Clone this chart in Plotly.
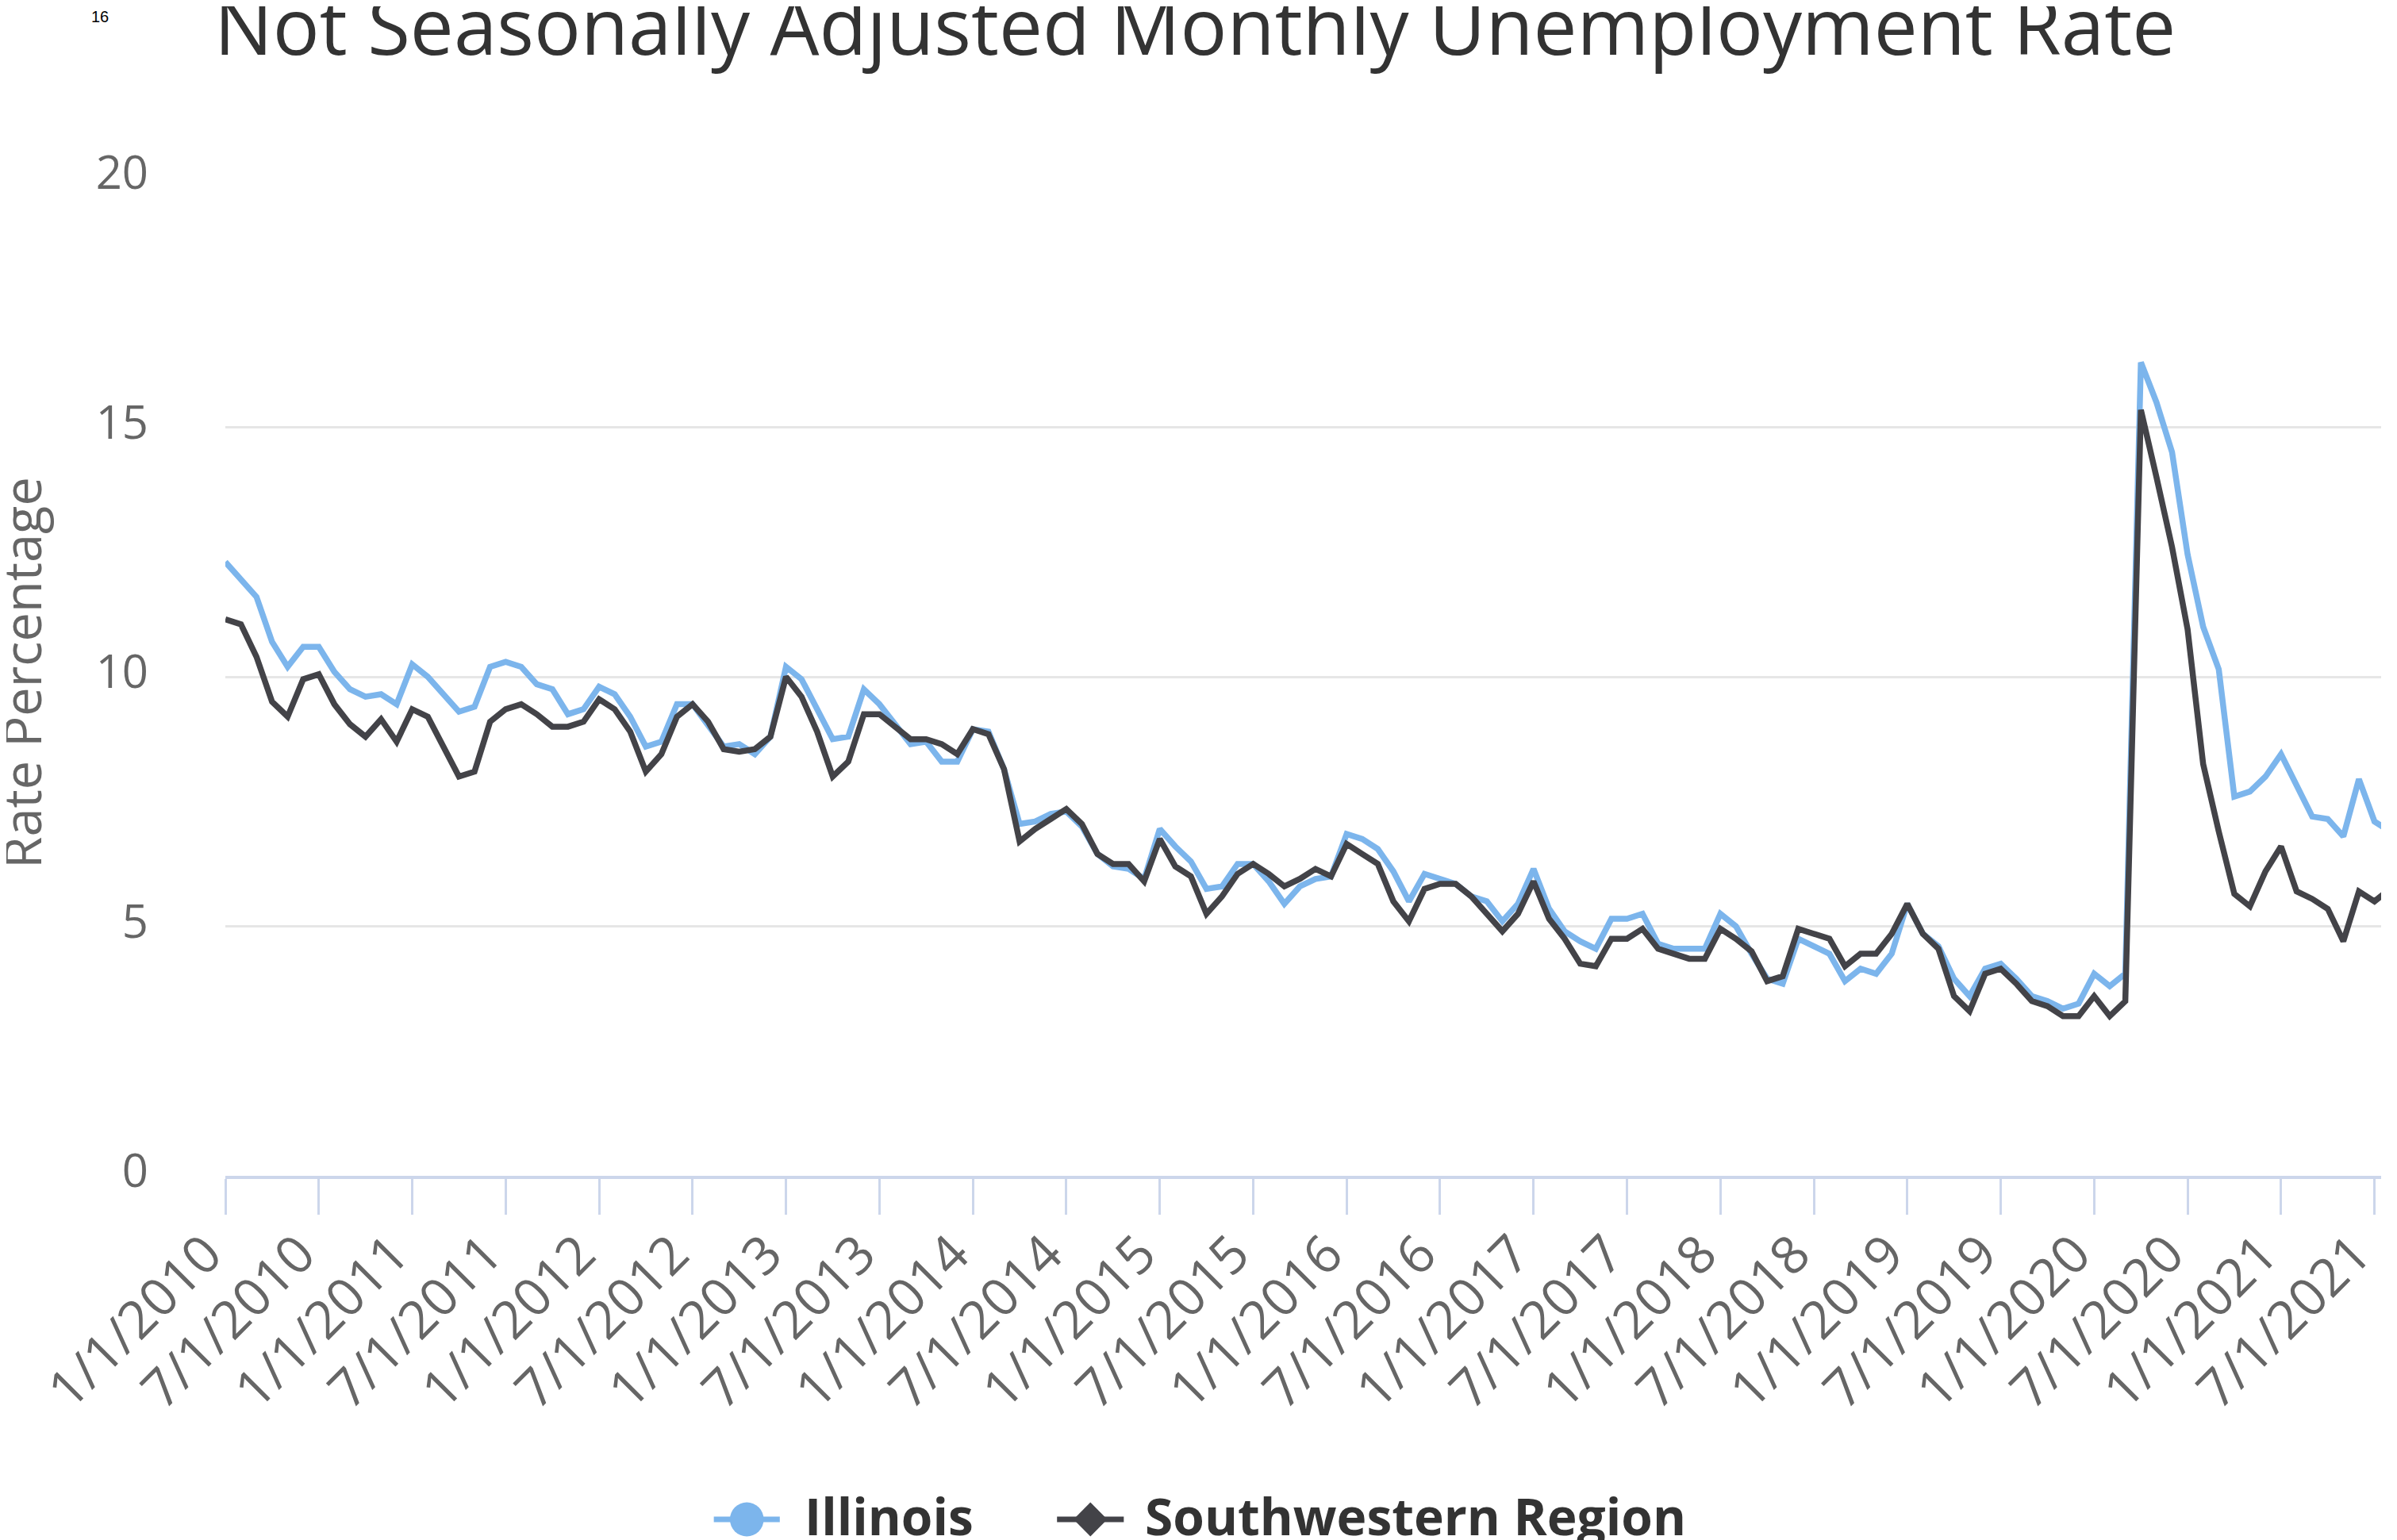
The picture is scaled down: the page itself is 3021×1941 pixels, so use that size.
import plotly.graph_objects as go

# ---- data -------------------------------------------------------------
months = [f"{m}/1/{y}" for y in range(2010, 2022) for m in range(1, 13)][:140]

illinois = [
    12.3, 11.95, 11.6, 10.7, 10.2, 10.6, 10.6, 10.1, 9.75, 9.6, 9.65, 9.45,
    10.25, 10.0, 9.65, 9.3, 9.4, 10.2, 10.3, 10.2, 9.85, 9.75, 9.25, 9.35,
    9.8, 9.65, 9.2, 8.6, 8.7, 9.45, 9.45, 9.0, 8.6, 8.65, 8.45, 8.8,
    10.2, 9.95, 9.35, 8.75, 8.8, 9.75, 9.45, 9.05, 8.65, 8.7, 8.3, 8.3,
    8.95, 8.9, 8.15, 7.05, 7.1, 7.25, 7.3, 7.0, 6.45, 6.2, 6.15, 5.95,
    6.95, 6.6, 6.3, 5.75, 5.8, 6.25, 6.25, 5.9, 5.45, 5.8, 5.95, 6.0,
    6.85, 6.75, 6.55, 6.1, 5.5, 6.05, 5.95, 5.85, 5.6, 5.5, 5.1, 5.45,
    6.15, 5.35, 4.9, 4.7, 4.55, 5.15, 5.15, 5.25, 4.65, 4.55, 4.55, 4.55,
    5.25, 5.0, 4.45, 3.95, 3.85, 4.75, 4.6, 4.45, 3.9, 4.15, 4.05, 4.45,
    5.45, 4.85, 4.6, 3.95, 3.6, 4.15, 4.25, 3.95, 3.6, 3.5, 3.35, 3.45,
    4.05, 3.8, 4.05, 16.3, 15.5, 14.5, 12.45, 11.0, 10.15, 7.6, 7.7, 8.0,
    8.45, 7.8, 7.2, 7.15, 6.8, 7.95, 7.1, 6.9,
]

southwestern = [
    11.15, 11.05, 10.4, 9.5, 9.2, 9.95, 10.05, 9.45, 9.05, 8.8, 9.15, 8.7,
    9.35, 9.2, 8.6, 8.0, 8.1, 9.1, 9.35, 9.45, 9.25, 9.0, 9.0, 9.1,
    9.55, 9.35, 8.9, 8.1, 8.45, 9.2, 9.45, 9.1, 8.55, 8.5, 8.55, 8.8,
    10.0, 9.6, 8.9, 8.0, 8.3, 9.25, 9.25, 9.0, 8.75, 8.75, 8.65, 8.45,
    8.95, 8.85, 8.15, 6.7, 6.95, 7.15, 7.35, 7.05, 6.45, 6.25, 6.25, 5.9,
    6.75, 6.2, 6.0, 5.25, 5.6, 6.05, 6.25, 6.05, 5.8, 5.95, 6.15, 6.0,
    6.65, 6.45, 6.25, 5.5, 5.1, 5.75, 5.85, 5.85, 5.6, 5.25, 4.9, 5.25,
    5.9, 5.15, 4.75, 4.25, 4.2, 4.75, 4.75, 4.95, 4.55, 4.45, 4.35, 4.35,
    4.95, 4.75, 4.5, 3.9, 4.0, 4.95, 4.85, 4.75, 4.2, 4.45, 4.45, 4.85,
    5.45, 4.85, 4.55, 3.6, 3.3, 4.05, 4.15, 3.85, 3.5, 3.4, 3.2, 3.2,
    3.6, 3.2, 3.5, 15.35, 14.0, 12.6, 10.95, 8.25, 6.9, 5.65, 5.4, 6.1,
    6.6, 5.7, 5.55, 5.35, 4.7, 5.7, 5.5, 5.75,
]

tick_labels = months[::6]
y_ticks = [0, 5, 10, 15, 20]

series_names = ["Illinois", "Southwestern Region"]
series_colors = ["#7cb5ec", "#434348"]

# ---- geometry ---------------------------------------------------------
W, H = 3021, 1941
L, R, T, B = 276, 0, 216, 467
PW, PH = W - L - R, H - T - B


def px(x):
    return (x - L) / PW


def py(y):
    return (H - B - y) / PH


FONT = "Open Sans, Noto Sans, sans-serif"

fig = go.Figure()
for name, vals, col in zip(series_names, [illinois, southwestern], series_colors):
    fig.add_trace(go.Scatter(
        x=months[:len(vals)], y=vals, mode="lines", name=name,
        line=dict(color=col, width=7.5), showlegend=False,
    ))

# ---- manual legend ----------------------------------------------------
shapes = []
annotations = []
sym_y = 1907
txt_y = 1902
items = [(898, 982, 1012, "circle"), (1335, 1420, 1445, "diamond")]
for (x0, x1, tx, sym), name, col in zip(items, series_names, series_colors):
    shapes.append(dict(type="line", xref="paper", yref="paper",
                       x0=px(x0), x1=px(x1), y0=py(sym_y), y1=py(sym_y),
                       line=dict(color=col, width=7)))
    cx = (x0 + x1) / 2
    r = 21.5
    if sym == "circle":
        shapes.append(dict(type="circle", xref="paper", yref="paper",
                           x0=px(cx - r), x1=px(cx + r), y0=py(sym_y + r), y1=py(sym_y - r),
                           fillcolor=col, line=dict(width=0)))
    else:
        path = (f"M {px(cx - r)} {py(sym_y)} L {px(cx)} {py(sym_y - r)} "
                f"L {px(cx + r)} {py(sym_y)} L {px(cx)} {py(sym_y + r)} Z")
        shapes.append(dict(type="path", xref="paper", yref="paper", path=path,
                           fillcolor=col, line=dict(width=0)))
    annotations.append(dict(text=f"<b>{name}</b>", xref="paper", yref="paper",
                            x=px(tx), y=py(txt_y), xanchor="left", yanchor="middle",
                            showarrow=False, font=dict(family=FONT, size=64, color="#333333")))

# title (partly cut at the top, as in the reference)
annotations.append(dict(text="Not Seasonally Adjusted Monthly Unemployment Rate",
                        xref="paper", yref="paper", x=px(W / 2), y=py(23),
                        xanchor="center", yanchor="middle", showarrow=False,
                        font=dict(family=FONT, size=98, color="#333333")))
# y axis title
annotations.append(dict(text="Rate Percentage", xref="paper", yref="paper",
                        x=px(16), y=py(840), xanchor="center", yanchor="middle",
                        textangle=-90, showarrow=False,
                        font=dict(family=FONT, size=65, color="#666666")))
# small page number
annotations.append(dict(text="16", xref="paper", yref="paper",
                        x=px(116), y=py(13), xanchor="center", yanchor="middle",
                        showarrow=False,
                        font=dict(family="Liberation Sans, Arial, sans-serif", size=20, color="#000000")))

pad = "\u00a0\u00a0"
fig.update_layout(
    width=W, height=H,
    margin=dict(l=L, r=R, t=T, b=B, pad=0),
    paper_bgcolor="white", plot_bgcolor="white",
    shapes=shapes, annotations=annotations,
    showlegend=False,
    xaxis=dict(
        type="category", categoryorder="array", categoryarray=months,
        range=[0, PW / 19.83],
        tickmode="array", tickvals=tick_labels, ticktext=[t + pad for t in tick_labels],
        tickangle=-45, ticks="outside", ticklen=45, tickwidth=3, tickcolor="#ccd6eb",
        ticklabelstandoff=-40,
        showline=True, linecolor="#ccd6eb", linewidth=4,
        showgrid=False, zeroline=False,
        tickfont=dict(family=FONT, size=66, color="#666666"),
    ),
    yaxis=dict(
        range=[0, 20], tickmode="array", tickvals=y_ticks,
        showgrid=True, gridcolor="#e6e6e6", gridwidth=3,
        zeroline=False, showline=False, ticks="",
        ticklabelstandoff=96, ticklabelshift=-6,
        tickfont=dict(family=FONT, size=58, color="#666666"),
    ),
)

fig.write_html("out.html")
